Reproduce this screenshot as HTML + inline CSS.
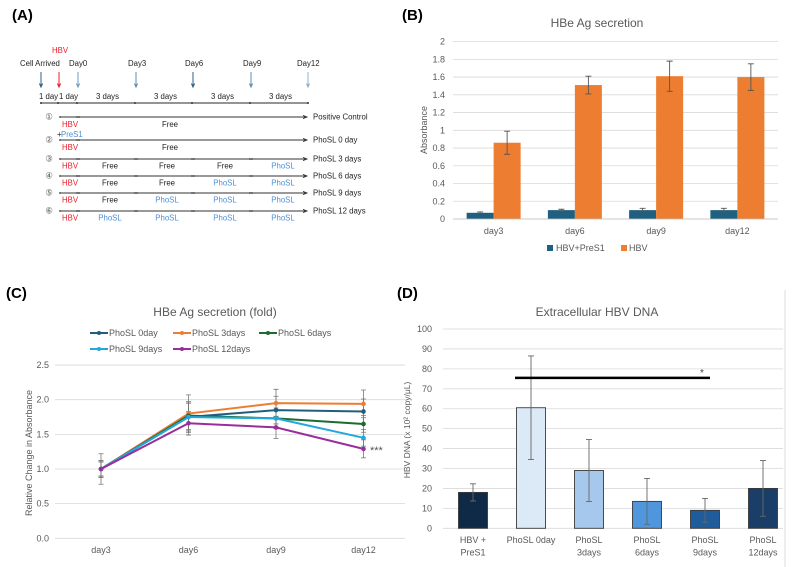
<!DOCTYPE html>
<html><head><meta charset="utf-8">
<style>
html,body{margin:0;padding:0;background:#fff;}
svg{display:block;font-family:"Liberation Sans",Arial,sans-serif;}
</style></head>
<body>
<svg id="fig" width="793" height="567" viewBox="0 0 793 567" xmlns="http://www.w3.org/2000/svg">
<rect width="793" height="567" fill="#fff"/>
<text x="12" y="20" font-size="15" font-weight="bold">(A)</text>
<text x="402" y="20" font-size="15" font-weight="bold">(B)</text>
<text x="6" y="298" font-size="15" font-weight="bold">(C)</text>
<text x="397" y="298" font-size="15" font-weight="bold">(D)</text>
<g id="pa"></g>
<g id="pb"></g>
<g id="pc"></g>
<g id="pd"></g>
</svg>
<script>
// ---- Panel B data ----
const bCats=['day3','day6','day9','day12'];
const bPreS1=[0.07,0.1,0.1,0.1];
const bPreS1Err=[0.01,0.01,0.02,0.02];
const bHBV=[0.86,1.51,1.61,1.6];
const bHBVErr=[0.13,0.1,0.17,0.15];
const bTicks=[0,0.2,0.4,0.6,0.8,1,1.2,1.4,1.6,1.8,2];
const bTickLabels=['0','0.2','0.4','0.6','0.8','1','1.2','1.4','1.6','1.8','2'];
// ---- Panel C data ----
const cCats=['day3','day6','day9','day12'];
const cNames=['PhoSL 0day','PhoSL 3days','PhoSL 6days','PhoSL 9days','PhoSL 12days'];
const c0day=[1.0,1.75,1.85,1.83];
const c3days=[1.0,1.8,1.95,1.94];
const c6days=[1.0,1.77,1.73,1.65];
const c9days=[1.0,1.75,1.73,1.45];
const c12days=[1.0,1.66,1.6,1.29];
const c0dayErr=[0.12,0.2,0.2,0.18];
const c3daysErr=[0.22,0.27,0.2,0.2];
const c6daysErr=[0.1,0.2,0.12,0.12];
const c9daysErr=[0.12,0.22,0.15,0.12];
const c12daysErr=[0.12,0.17,0.16,0.13];
const cTicks=[0,0.5,1,1.5,2,2.5];
const cTickLabels=['0.0','0.5','1.0','1.5','2.0','2.5'];
// ---- Panel D data ----
const dCats=[['HBV +','PreS1'],['PhoSL 0day'],['PhoSL','3days'],['PhoSL','6days'],['PhoSL','9days'],['PhoSL','12days']];
const dVals=[18,60.5,29,13.5,9,20];
const dErr=[4.3,26,15.5,11.5,6,14];
const dTicks=[0,10,20,30,40,50,60,70,80,90,100];
const dSigFrom=1, dSigTo=4, dSigLevel=75.5;

const NS='http://www.w3.org/2000/svg';
function mk(tag,attrs,parent,txt){const e=document.createElementNS(NS,tag);for(const k in attrs)e.setAttribute(k,attrs[k]);if(txt!==undefined)e.textContent=txt;parent.appendChild(e);return e;}
function line(p,x1,y1,x2,y2,st,w){return mk('line',{x1:x1,y1:y1,x2:x2,y2:y2,stroke:st,'stroke-width':w||1},p);}

// ================= Panel A =================
(function(){
const g=document.getElementById('pa');
let e;
const FS=7.8;
e=mk('text',{x:52,y:53,'font-size':FS,fill:'#e8202a'},g,'HBV');


const tops=[['Cell Arrived',20],['Day0',69],['Day3',128],['Day6',185],['Day9',243],['Day12',297]];
tops.forEach(t=>{e=mk('text',{x:t[1],y:66,'font-size':FS,fill:'#222'},g,t[0]);

});
const arrows=[[41,'#2c5f86'],[59,'#e8202a'],[78,'#6a9ec4'],[136,'#5b8db6'],[193,'#2c5f86'],[251,'#5b8db6'],[308,'#8fb0cc']];
arrows.forEach(a=>{e=mk('path',{d:`M${a[0]} 72 V86 M${a[0]-1.6} 83.5 L${a[0]} 87 L${a[0]+1.6} 83.5`,stroke:a[1],fill:'none','stroke-width':1},g);

});
const durs=[['1 day',39],['1 day',59],['3 days',96],['3 days',154],['3 days',211],['3 days',269]];
durs.forEach(d=>{e=mk('text',{x:d[1],y:99,'font-size':FS,fill:'#222'},g,d[0]);

});
e=line(g,41,103,308,103,'#555',1.3);


[41,58,77,135,192,250,308].forEach(x=>{mk('circle',{cx:x,cy:103,r:1,fill:'#333'},g);});
const rows=[
 {y:117,n:'①',lab:'Positive Control',segs:null},
 {y:140,n:'②',lab:'PhoSL 0 day',segs:null},
 {y:159,n:'③',lab:'PhoSL 3 days',segs:['Free','Free','Free','PhoSL']},
 {y:176,n:'④',lab:'PhoSL 6 days',segs:['Free','Free','PhoSL','PhoSL']},
 {y:193,n:'⑤',lab:'PhoSL 9 days',segs:['Free','PhoSL','PhoSL','PhoSL']},
 {y:211,n:'⑥',lab:'PhoSL 12 days',segs:['PhoSL','PhoSL','PhoSL','PhoSL']}];
const segX=[110,167,225,283];
rows.forEach((r,i)=>{
 e=mk('text',{x:49,y:r.y+2.5,'font-size':8.5,fill:'#555','text-anchor':'middle'},g,r.n);
 
 
 e=mk('path',{d:`M60 ${r.y} H306 M303 ${r.y-1.6} L307 ${r.y} L303 ${r.y+1.6}`,stroke:'#333','stroke-width':0.9,fill:'none'},g);
 
 
 [60,77,79].forEach(x=>mk('circle',{cx:x,cy:r.y,r:0.9,fill:'#333'},g));
 if(r.segs){[135,137,192,194,250,252].forEach(x=>mk('circle',{cx:x,cy:r.y,r:0.9,fill:'#333'},g));}
 e=mk('text',{x:313,y:r.y+2.5,'font-size':FS,fill:'#222'},g,r.lab);
 
 
 const ly=r.y+(i<2?10:9.5);
 e=mk('text',{x:62,y:ly,'font-size':FS,fill:'#e8202a'},g,'HBV');
 
 
 if(!r.segs){e=mk('text',{x:170,y:ly,'font-size':FS,fill:'#222','text-anchor':'middle'},g,'Free');
  
  }
 else r.segs.forEach((s,j)=>{e=mk('text',{x:segX[j],y:ly,'font-size':FS,fill:s==='PhoSL'?'#4a90d9':'#222','text-anchor':'middle'},g,s);
  
  });
});
e=mk('text',{x:57,y:137,'font-size':FS,fill:'#222'},g,'+');


e=mk('text',{x:61,y:137,'font-size':FS,fill:'#4a90d9'},g,'PreS1');


})();

// ================= Panel B =================
(function(){
const g=document.getElementById('pb');
const L=453,R=778;
const y=v=>219-v*88.7;
const cw=(R-L)/bCats.length;
const xc=i=>L+cw*(i+0.5);
let e;
e=mk('text',{x:597,y:27,'font-size':12,fill:'#595959','text-anchor':'middle'},g,'HBe Ag secretion');


bTicks.forEach((t,i)=>{
 e=line(g,L,y(t),R,y(t),'#d9d9d9',0.8);
 
 
 e=mk('text',{x:445,y:y(t)+3,'font-size':9,fill:'#595959','text-anchor':'end'},g,bTickLabels[i]);
 
 
});
e=mk('text',{x:0,y:0,'font-size':9,fill:'#595959','text-anchor':'middle',transform:'translate(427,130) rotate(-90)'},g,'Absorbance');


const bw=27;
bCats.forEach((c,i)=>{
 const cx=xc(i);
 e=mk('rect',{x:cx-bw,y:y(bPreS1[i]),width:bw,height:y(0)-y(bPreS1[i]),fill:'#1f5f7f'},g);
 
 
 e=mk('rect',{x:cx,y:y(bHBV[i]),width:bw,height:y(0)-y(bHBV[i]),fill:'#ed7d31'},g);
 
 
 [[cx-bw/2,bPreS1[i],bPreS1Err[i]],[cx+bw/2,bHBV[i],bHBVErr[i]]].forEach(a=>{
  e=mk('path',{d:`M${a[0]} ${y(a[1]+a[2])} V${y(a[1]-a[2])} M${a[0]-3} ${y(a[1]+a[2])} h6 M${a[0]-3} ${y(a[1]-a[2])} h6`,stroke:'#555','stroke-width':0.9,fill:'none'},g);
  
  
 });
 e=mk('text',{x:cx,y:234,'font-size':9,fill:'#595959','text-anchor':'middle'},g,c);
 
 
});
e=line(g,L,y(0),R,y(0),'#bfbfbf',0.8);


e=mk('rect',{x:547,y:245,width:6,height:6,fill:'#1f5f7f'},g);


e=mk('text',{x:556,y:251,'font-size':9,fill:'#595959'},g,'HBV+PreS1');


e=mk('rect',{x:621,y:245,width:6,height:6,fill:'#ed7d31'},g);


e=mk('text',{x:629,y:251,'font-size':9,fill:'#595959'},g,'HBV');


})();

// ================= Panel C =================
(function(){
const g=document.getElementById('pc');
const y=v=>538.3-v*69.3;
const x=i=>101+87.5*i;
let e;
e=mk('text',{x:215,y:316,'font-size':12,fill:'#595959','text-anchor':'middle'},g,'HBe Ag secretion (fold)');


cTicks.forEach((t,i)=>{
 e=line(g,55,y(t),405,y(t),'#d9d9d9',0.8);
 
 
 e=mk('text',{x:49,y:y(t)+3,'font-size':9,fill:'#595959','text-anchor':'end'},g,cTickLabels[i]);
 
 
});
cCats.forEach((c,i)=>{
 e=mk('text',{x:x(i),y:553,'font-size':9,fill:'#595959','text-anchor':'middle'},g,c);
 
 
});
e=mk('text',{x:0,y:0,'font-size':9,fill:'#595959','text-anchor':'middle',transform:'translate(32,453) rotate(-90)'},g,'Relative Change in Absorbance');


const series=[c0day,c3days,c6days,c9days,c12days];
const errs=[c0dayErr,c3daysErr,c6daysErr,c9daysErr,c12daysErr];
const cols=['#215e7e','#ed7d31','#1e6b2e','#22a7df','#9a2d9c'];
const keys=['0day','3days','6days','9days','12days'];
series.forEach((s,k)=>{s.forEach((v,i)=>{
 e=mk('path',{d:`M${x(i)} ${y(v+errs[k][i])} V${y(v-errs[k][i])} M${x(i)-2.5} ${y(v+errs[k][i])} h5 M${x(i)-2.5} ${y(v-errs[k][i])} h5`,stroke:'#777','stroke-width':0.8,fill:'none'},g);
 
 
});});
series.forEach((s,k)=>{
 e=mk('polyline',{points:s.map((v,i)=>x(i)+','+y(v)).join(' '),fill:'none',stroke:cols[k],'stroke-width':2},g);
 
 
 s.forEach((v,i)=>{e=mk('circle',{cx:x(i),cy:y(v),r:2.3,fill:cols[k]},g);
  
  });
});
e=mk('text',{x:370,y:454,'font-size':11,fill:'#555'},g,'***');


const lpos=[[90,333],[173,333],[259,333],[90,349],[173,349]];
cNames.forEach((n,k)=>{
 const p=lpos[k];
 e=line(g,p[0],p[1],p[0]+18,p[1],cols[k],2);
 
 
 mk('circle',{cx:p[0]+9,cy:p[1],r:2,fill:cols[k]},g);
 e=mk('text',{x:p[0]+19,y:p[1]+3,'font-size':9,fill:'#595959'},g,n);
 
 
});
})();

// ================= Panel D =================
(function(){
const g=document.getElementById('pd');
const y=v=>528.3-v*1.993;
const x=i=>444+58*(i+0.5);
let e;
e=line(g,785,290,785,567,'#ddd',1);


e=mk('text',{x:597,y:316,'font-size':12,fill:'#595959','text-anchor':'middle'},g,'Extracellular HBV DNA');


dTicks.forEach(t=>{
 e=line(g,443,y(t),783,y(t),'#d9d9d9',0.8);
 
 
 e=mk('text',{x:432,y:y(t)+3,'font-size':9,fill:'#595959','text-anchor':'end'},g,String(t));
 
 
});
e=mk('text',{x:0,y:0,'font-size':8.5,fill:'#595959','text-anchor':'middle',transform:'translate(410,430) rotate(-90)'},g,'HBV DNA (x 10² copy/μL)');


const cols=['#0f2a47','#dce9f6','#a6c8ec','#4f96dd','#1f5c9c','#1b3e68'];
const bw=29;
dVals.forEach((v,i)=>{
 e=mk('rect',{x:x(i)-bw/2,y:y(v),width:bw,height:y(0)-y(v),fill:cols[i],stroke:'#3a3a3a','stroke-width':0.9},g);
 
 
 e=mk('path',{d:`M${x(i)} ${y(v+dErr[i])} V${y(v-dErr[i])} M${x(i)-3} ${y(v+dErr[i])} h6 M${x(i)-3} ${y(v-dErr[i])} h6`,stroke:'#666','stroke-width':0.9,fill:'none'},g);
 
 
 dCats[i].forEach((t,j)=>{
  e=mk('text',{x:x(i),y:543+j*12.5,'font-size':9,fill:'#595959','text-anchor':'middle'},g,t);
  
  
 });
});
e=line(g,x(dSigFrom)-16,y(dSigLevel),x(dSigTo)+5,y(dSigLevel),'#000',2.5);


e=mk('text',{x:x(dSigTo)-3,y:y(dSigLevel)-2,'font-size':10,fill:'#444','text-anchor':'middle'},g,'*');


})();
</script>
</body></html>
